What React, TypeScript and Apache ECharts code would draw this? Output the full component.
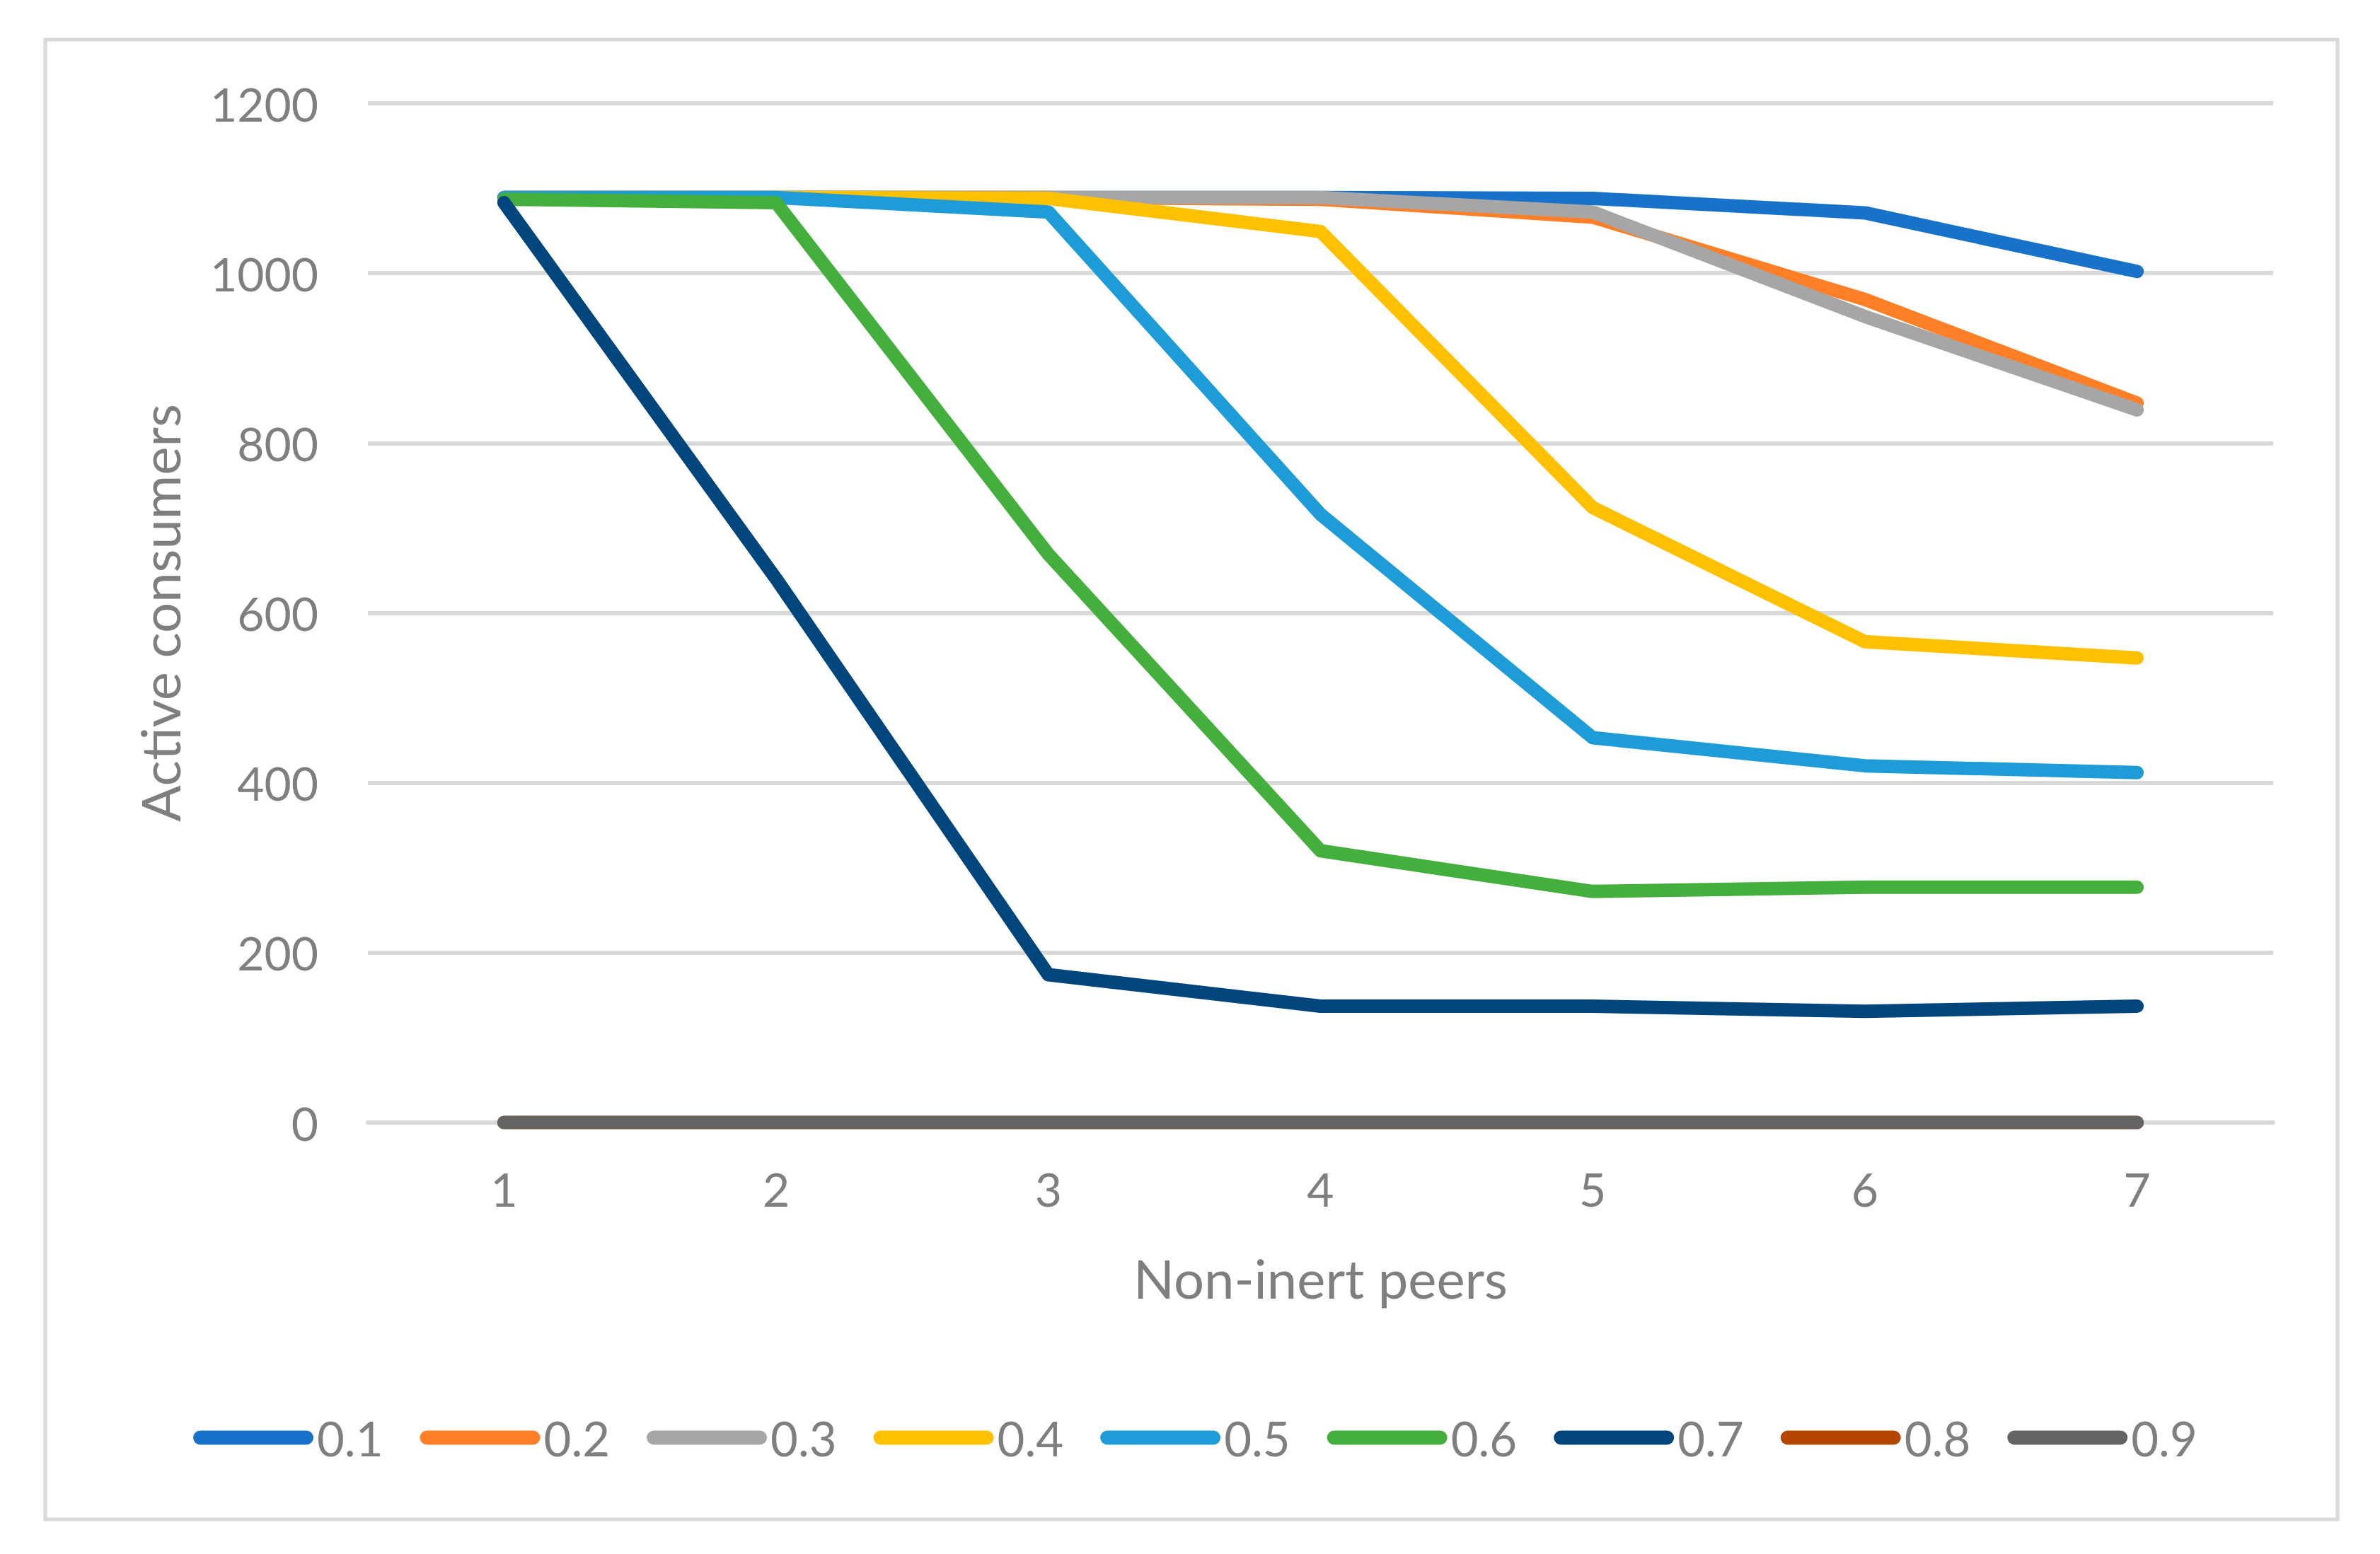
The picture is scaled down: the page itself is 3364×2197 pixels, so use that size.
import React, { useEffect, useRef } from "react";
import * as echarts from "echarts";

const categories = ["1", "2", "3", "4", "5", "6", "7"];
const seriesNames = ["0.1", "0.2", "0.3", "0.4", "0.5", "0.6", "0.7", "0.8", "0.9"];
const colors = ["#1872c9", "#ff7f27", "#a6a6a6", "#ffc000", "#1e9cd8", "#44af3c", "#00457c", "#b34700", "#646464"];

const s01 = [1089, 1089, 1089, 1089, 1088, 1071, 1002];
const s02 = [1089, 1089, 1089, 1087, 1066, 969, 847];
const s03 = [1089, 1089, 1089, 1089, 1072, 949, 839];
const s04 = [1089, 1089, 1088, 1049, 724, 566, 547];
const s05 = [1089, 1089, 1072, 716, 453, 420, 412];
const s06 = [1087, 1083, 669, 320, 272, 277, 277];
const s07 = [1083, 640, 174, 137, 137, 131, 137];
const s08 = [0, 0, 0, 0, 0, 0, 0];
const s09 = [0, 0, 0, 0, 0, 0, 0];
const allSeries = [s01, s02, s03, s04, s05, s06, s07, s08, s09];

const yTicks = [0, 200, 400, 600, 800, 1000, 1200];

const FONT = "Lato";
const TEXT = "#7f7f7f";

export default function App() {
  const ref = useRef<HTMLDivElement>(null);
  useEffect(() => {
    if (!ref.current) return;
    const chart = echarts.init(ref.current, undefined, { renderer: "svg" });
    const option = {
      animation: false,
      backgroundColor: "#ffffff",
      textStyle: { fontFamily: FONT, color: TEXT },
      graphic: [
        {
          type: "rect",
          shape: { x: 64, y: 56, width: 3240, height: 2092 },
          style: { fill: "none", stroke: "#d9d9d9", lineWidth: 5 },
          silent: true,
        },
      ],
      grid: { left: 520, right: 151, top: 146, bottom: 610, containLabel: false },
      legend: {
        left: 268,
        top: 1994,
        itemWidth: 170,
        itemHeight: 20,
        itemGap: 52,
        icon: "path://M10,0 L160,0 A10,10 0 0 1 160,20 L10,20 A10,10 0 0 1 10,0 Z",
        textStyle: { fontFamily: FONT, fontSize: 67, color: TEXT, padding: [0, 0, 0, 0] },
        data: seriesNames,
      },
      xAxis: {
        type: "category",
        data: categories,
        boundaryGap: true,
        name: "Non-inert peers",
        nameLocation: "middle",
        nameGap: 181,
        nameTextStyle: { fontFamily: FONT, fontSize: 76, color: TEXT },
        axisLine: { show: true, lineStyle: { color: "#d9d9d9", width: 6 } },
        axisTick: { show: false },
        axisLabel: { fontFamily: FONT, fontSize: 66, color: TEXT, margin: 60 },
        splitLine: { show: false },
      },
      yAxis: {
        type: "value",
        min: yTicks[0],
        max: yTicks[yTicks.length - 1],
        interval: 200,
        name: "Active consumers",
        nameLocation: "middle",
        nameGap: 257,
        nameRotate: 90,
        nameTextStyle: { fontFamily: FONT, fontSize: 76, color: TEXT },
        axisLine: { show: false },
        axisTick: { show: false },
        axisLabel: {
          fontFamily: FONT,
          fontSize: 66,
          color: TEXT,
          margin: 70,
          formatter: (v: number) => String(v),
        },
        splitLine: { show: true, lineStyle: { color: "#d9d9d9", width: 6 } },
      },
      series: seriesNames.map((name, i) => ({
        name,
        type: "line",
        data: allSeries[i],
        symbol: "none",
        showSymbol: false,
        color: colors[i],
        lineStyle: { width: 19, color: colors[i], cap: "round", join: "round" },
        itemStyle: { color: colors[i] },
      })),
    };
    chart.setOption(option);
    return () => chart.dispose();
  }, []);
  return (
    <div
      ref={ref}
      style={{ position: "fixed", left: 0, top: 0, width: 3364, height: 2197, background: "#fff" }}
    />
  );
}
